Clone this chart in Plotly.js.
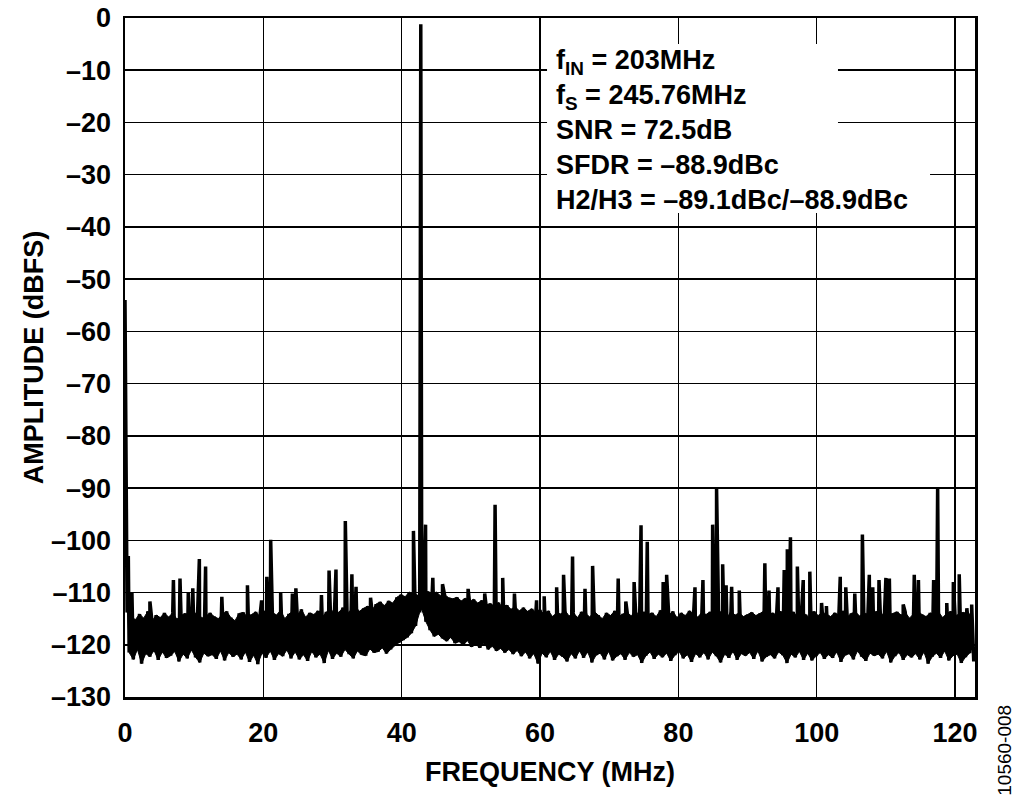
<!DOCTYPE html>
<html>
<head>
<meta charset="utf-8">
<script src="https://cdn.plot.ly/plotly-3.0.1.min.js"></script>
<style>
  html, body { margin: 0; padding: 0; background: #fff; }
  #chart { width: 1024px; height: 802px; }
</style>
</head>
<body>
<div id="chart"></div>
<script>
// ---- Data ----
// Noise-floor samples (dBFS), one every 0.3 MHz starting at 0.3 MHz
const floorStartMHz = 0.3;
const floorStepMHz = 0.3;
const floorDb = [
  -113.8,-121.5,-114.6,-122.8,-115.2,-120.9,-114.1,-123.6,-114.9,-121.7,-113.6,-122.3,-115.5,-121.1,-114.3,-122.9,-114.8,-121.4,-113.9,-122.5,
  -114.7,-122.1,-113.9,-121.3,-115.1,-123.2,-114.4,-121.8,-114.0,-122.6,-115.3,-121.0,-114.2,-122.4,-113.7,-123.4,-114.9,-121.6,-114.5,-122.2,
  -113.9,-121.9,-114.6,-122.7,-115.0,-121.2,-114.1,-123.0,-113.6,-121.5,-114.8,-122.3,-115.4,-121.8,-114.0,-122.8,-113.8,-121.4,-114.7,-123.3,
  -114.2,-122.0,-113.7,-123.7,-114.6,-121.6,-113.5,-122.5,-114.9,-121.2,-113.8,-122.9,-114.3,-121.7,-113.4,-122.2,-115.0,-121.0,-114.1,-122.6,
  -113.6,-121.4,-114.4,-122.8,-113.2,-121.9,-114.7,-123.1,-113.9,-121.3,-114.2,-122.4,-113.5,-121.8,-114.8,-123.5,-113.7,-121.1,-114.0,-122.7,
  -113.1,-121.6,-113.8,-122.3,-112.9,-120.9,-114.0,-121.8,-113.3,-122.6,-112.7,-121.2,-113.6,-121.9,-113.0,-122.1,-112.6,-120.8,-113.4,-121.5,
  -112.2,-121.3,-111.8,-120.6,-112.5,-121.7,-111.6,-120.9,-112.0,-120.2,-110.9,-119.6,-110.4,-119.1,-110.8,-118.6,-109.9,-117.8,-110.2,-116.4,
  -110.5,-113.8,-113.2,-110.1,-115.6,-109.8,-117.2,-110.3,-118.4,-109.9,-118.0,-110.6,-118.8,-110.4,-119.3,-111.0,-118.6,-111.2,-119.7,-110.9,
  -119.4,-111.6,-120.1,-111.1,-119.2,-111.8,-120.4,-111.3,-119.9,-112.0,-120.6,-111.5,-119.6,-112.4,-120.9,-112.1,-120.3,-112.6,-121.2,-111.9,
  -120.7,-112.9,-121.5,-112.4,-120.9,-113.2,-121.8,-112.7,-121.1,-113.5,-122.2,-112.9,-121.4,-113.6,-122.6,-113.1,-121.7,-113.8,-123.6,-113.3,
  -121.6,-114.2,-122.4,-113.5,-121.3,-114.6,-122.9,-113.9,-121.8,-114.1,-122.3,-113.4,-123.2,-114.5,-121.7,-113.8,-122.6,-114.8,-121.2,-113.7,
  -122.5,-114.0,-121.4,-114.7,-123.4,-113.6,-122.0,-114.3,-121.6,-115.0,-122.8,-113.9,-121.3,-114.4,-123.0,-113.5,-122.2,-114.6,-121.7,-114.1,
  -122.9,-113.8,-121.5,-114.5,-122.3,-113.3,-121.9,-114.9,-123.5,-113.7,-122.1,-114.2,-121.4,-113.9,-122.7,-114.6,-121.8,-113.4,-122.4,-114.0,
  -121.6,-114.3,-123.1,-113.6,-122.0,-114.8,-121.3,-113.9,-122.6,-114.4,-121.9,-113.5,-123.3,-114.1,-121.7,-114.7,-122.4,-113.8,-121.5,-114.2,
  -122.8,-113.7,-121.4,-114.5,-122.2,-113.4,-123.4,-114.0,-121.8,-114.9,-122.5,-113.6,-121.3,-114.3,-122.9,-113.9,-121.7,-114.6,-122.1,-114.2,
  -121.5,-113.8,-122.7,-114.4,-121.2,-114.0,-123.2,-113.5,-122.3,-114.7,-121.9,-113.9,-122.6,-114.3,-121.4,-113.6,-122.0,-114.8,-123.5,-114.1,
  -121.8,-113.7,-122.4,-114.5,-121.3,-113.9,-122.9,-114.2,-121.6,-114.9,-123.0,-113.6,-122.2,-114.4,-121.5,-113.8,-122.7,-114.1,-121.9,-114.6,
  -122.5,-113.9,-121.4,-114.3,-123.3,-113.5,-122.0,-114.7,-121.7,-114.0,-122.8,-113.7,-121.2,-114.5,-122.3,-113.8,-123.1,-114.2,-121.6,-114.8,
  -122.1,-113.6,-121.8,-114.4,-122.6,-113.9,-121.3,-114.6,-123.4,-114.0,-122.2,-113.7,-121.5,-114.3,-122.9,-113.8,-121.9,-114.9,-122.4,-114.1,
  -121.7,-113.5,-122.8,-114.2,-121.4,-114.6,-123.6,-113.9,-122.3,-114.4,-121.6,-113.7,-122.5,-114.8,-121.2,-114.0,-123.0,-113.6,-122.1,-114.5,
  -121.8,-114.1,-123.5,-113.8,-122.4,-114.3,-121.6,-113.9,-123.2
];

// Discrete tones / spurs: frequency (MHz) and amplitude (dBFS)
const spurFreqMHz = [
  0.0, 0.48, 1.0, 3.6, 7.0, 7.95, 9.15, 9.8, 10.75, 11.65, 14.0, 17.7, 19.75, 20.5, 21.06, 22.5, 24.2, 24.7,
  28.4, 29.5, 30.5, 31.85, 32.8, 33.4, 35.5, 41.7, 42.76, 43.45, 44.5, 45.9, 49.6, 52.0, 53.5, 54.6, 56.3,
  59.5, 60.6, 62.4, 63.4, 64.7, 66.5, 67.6, 71.3, 72.4, 73.6, 74.6, 75.5, 77.8, 78.3, 82.4, 83.55, 84.95,
  85.52, 86.4, 86.9, 87.7, 88.8, 92.5, 93.1, 94.4, 95.3, 95.75, 96.2, 97.2, 98.05, 99.0, 100.7, 101.4,
  103.4, 104.2, 105.5, 106.6, 107.6, 108.1, 109.0, 110.0, 110.5, 112.5, 114.1, 114.7, 116.9, 117.48,
  118.8, 119.75, 120.6, 121.7, 122.4
];
const spurDb = [
  -54, -103, -110, -111.7, -107.6, -107.3, -110, -109.2, -103.6, -105, -110.8, -108.6, -111.5, -107, -99.9, -109.9, -110.2, -109.2,
  -110.5, -105.8, -105.6, -96.3, -106.5, -108.9, -111, -98.2, -1.2, -97, -107.2, -108.4, -109.3, -110.2, -93.2, -107.2, -110.2,
  -111.5, -110.7, -109, -106.6, -103.1, -109.3, -104.9, -107.3, -111.7, -108, -97.1, -100.3, -108, -106.6, -109, -107.6, -97,
  -90.1, -104.6, -108.6, -108.9, -109.6, -104.4, -109.6, -109, -105.7, -101.7, -99.4, -105, -107.6, -106, -112, -112.6,
  -107, -109, -110.2, -98.9, -106.6, -109, -107.6, -107.2, -107.3, -112.3, -106.6, -107.6, -107.6, -89.8,
  -112, -108, -106.5, -113, -112.3
];

// Axis ticks
const xTicks = [0, 20, 40, 60, 80, 100, 120];
const yTicks = [0, -10, -20, -30, -40, -50, -60, -70, -80, -90, -100, -110, -120, -130];
const xRange = [0, 122.88];
const yRange = [-130, 0];

// Annotation text
const infoLines = [
  'f<sub>IN</sub> = 203MHz',
  'f<sub>S</sub> = 245.76MHz',
  'SNR = 72.5dB',
  'SFDR = –88.9dBc',
  'H2/H3 = –89.1dBc/–88.9dBc'
];
const figureId = '10560-008';

// ---- Build the spectrum ----
const floorX = floorDb.map((v, i) => floorStartMHz + i * floorStepMHz);
const pts = floorDb.map((v, i) => [floorX[i], v]);
spurFreqMHz.forEach((f, i) => pts.push([f, spurDb[i]]));
pts.sort((a, b) => a[0] - b[0]);

// noise band body: polygon through the high and low sample of each pair of bins
const upX = [], upY = [], loX = [], loY = [];
for (let k = 0; k + 1 < floorDb.length; k += 2) {
  const a = floorDb[k], b = floorDb[k + 1];
  if (a >= b) { upX.push(floorX[k]); upY.push(a); loX.push(floorX[k + 1]); loY.push(b); }
  else { upX.push(floorX[k + 1]); upY.push(b); loX.push(floorX[k]); loY.push(a); }
}
const bandTrace = {
  type: 'scatter',
  mode: 'lines',
  x: upX.concat(loX.slice().reverse()),
  y: upY.concat(loY.slice().reverse()),
  fill: 'toself',
  fillcolor: '#000',
  line: { color: '#000', width: 1, simplify: false },
  hoverinfo: 'skip',
  showlegend: false
};

const trace = {
  type: 'scatter',
  mode: 'lines',
  x: pts.map(p => p[0]),
  y: pts.map(p => p[1]),
  line: { color: '#000', width: 3.5, simplify: false },
  hoverinfo: 'x+y',
  showlegend: false
};

const FONT = 'Liberation Sans, Arial, Helvetica, sans-serif';
const AX = 27;

const layout = {
  width: 1024,
  height: 802,
  margin: { l: 125, r: 49, t: 18, b: 105, pad: 0 },
  paper_bgcolor: '#fff',
  plot_bgcolor: '#fff',
  font: { family: FONT, color: '#000', size: AX, weight: 'bold' },
  showlegend: false,
  xaxis: {
    range: xRange,
    tickmode: 'array',
    tickvals: xTicks,
    ticktext: xTicks.map(String),
    showgrid: true,
    gridcolor: '#000',
    gridwidth: 1.5,
    zeroline: false,
    showline: true,
    linecolor: '#000',
    linewidth: 2.5,
    mirror: true,
    ticks: '',
    ticklabelstandoff: 10,
    tickfont: { family: FONT, size: AX, color: '#000', weight: 'bold' },
    title: { text: 'FREQUENCY (MHz)', font: { family: FONT, size: AX, color: '#000', weight: 'bold' }, standoff: 15 },
    automargin: false,
    fixedrange: true
  },
  yaxis: {
    range: yRange,
    tickmode: 'array',
    tickvals: yTicks,
    ticktext: yTicks.map(v => v < 0 ? '\u2013' + Math.abs(v) : String(v)),
    showgrid: true,
    gridcolor: '#000',
    gridwidth: 1.5,
    zeroline: false,
    showline: true,
    linecolor: '#000',
    linewidth: 2.5,
    mirror: true,
    ticks: '',
    ticklabelstandoff: 6,
    tickfont: { family: FONT, size: AX, color: '#000', weight: 'bold' },
    title: { text: 'AMPLITUDE (dBFS)', font: { family: FONT, size: AX, color: '#000', weight: 'bold' }, standoff: 0 },
    automargin: false,
    fixedrange: true
  },
  shapes: [
    { type: 'rect', xref: 'paper', yref: 'paper', x0: 0.4965, x1: 0.8388, y0: 0.8056, y1: 0.9617,
      fillcolor: '#fff', line: { width: 0 }, layer: 'above' },
    { type: 'rect', xref: 'paper', yref: 'paper', x0: 0.4965, x1: 0.9471, y0: 0.7128, y1: 0.8066,
      fillcolor: '#fff', line: { width: 0 }, layer: 'above' }
  ],
  annotations: [
    {
      xref: 'paper', yref: 'paper',
      x: 0.5059, y: 0.8351, xanchor: 'left', yanchor: 'middle',
      text: infoLines.join('<br>'),
      showarrow: false, align: 'left', borderpad: 0,
      font: { family: FONT, size: 27, color: '#000', weight: 'bold' }
    },
    {
      xref: 'paper', yref: 'paper',
      x: 1.035, y: -0.078, xanchor: 'center', yanchor: 'middle',
      text: figureId, textangle: -90, showarrow: false,
      font: { family: FONT, size: 19, color: '#000', weight: 'normal' }
    }
  ]
};

Plotly.newPlot('chart', [bandTrace, trace], layout, { displayModeBar: false, staticPlot: true });
</script>
</body>
</html>
